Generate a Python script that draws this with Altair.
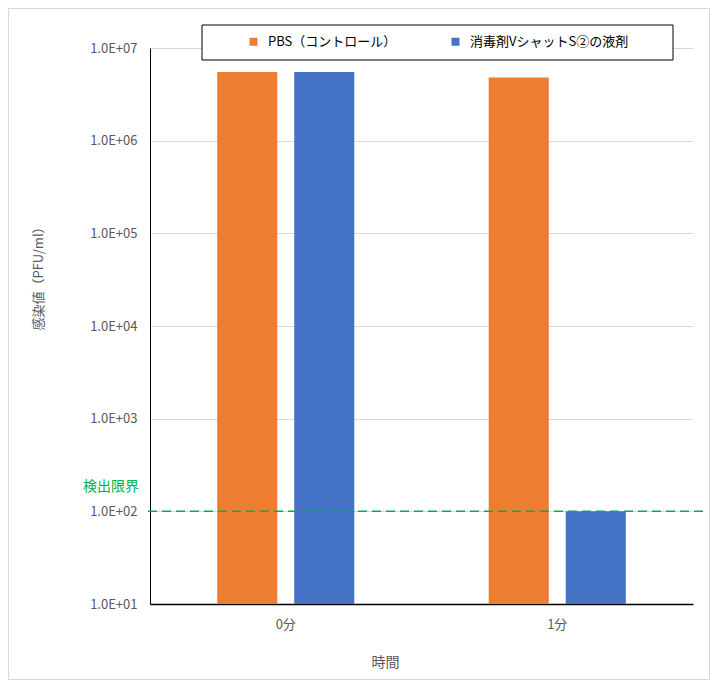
import altair as alt
import pandas as pd

times = ["0分", "1分"]
series = ["PBS（コントロール）", "消毒剤VシャットS②の液剤"]
pbs_values = [5.5e6, 4.8e6]
vshut_values = [5.5e6, 1.0e2]
y_ticks = [1e1, 1e2, 1e3, 1e4, 1e5, 1e6, 1e7]
limit_value = 1e2
limit_label = "検出限界"
colors = ["#ED7D31", "#4472C4"]
green = "#00B050"
gray = "#595959"
font = "Noto Sans CJK JP"

rows = []
for i, t in enumerate(times):
    rows.append({"time": t, "series": series[0], "value": pbs_values[i]})
    rows.append({"time": t, "series": series[1], "value": vshut_values[i]})
df = pd.DataFrame(rows)
one = pd.DataFrame({"a": [0]})

W, H = 543, 556

yscale = alt.Scale(type="log", domain=[1e1, 1e7], nice=False)

outer = alt.Chart(one).mark_rect(fill=None, stroke="#D9D9D9", strokeWidth=1).encode(
    x=alt.value(-141.5), x2=alt.value(559.5), y=alt.value(-39.5), y2=alt.value(631.5)
)

legend_box = alt.Chart(one).mark_rect(fill="white", stroke="black", strokeWidth=1).encode(
    x=alt.value(52), x2=alt.value(523), y=alt.value(-23), y2=alt.value(12)
)

bars = alt.Chart(df).mark_bar().encode(
    x=alt.X("time:N", sort=times,
            scale=alt.Scale(paddingInner=0.495, paddingOuter=0.2475),
            axis=alt.Axis(title="時間", labelAngle=0, ticks=False, labelPadding=14,
                          labelFontSize=13, labelColor=gray, labelFont=font,
                          domainColor="black", domainWidth=1.5,
                          titleFontSize=14, titleColor=gray, titleFont=font,
                          titleFontWeight="normal", titleX=235, titleY=58,
                          titleBaseline="middle", titleAlign="center")),
    xOffset=alt.XOffset("series:N", sort=series,
                        scale=alt.Scale(paddingInner=0.22, paddingOuter=0)),
    y=alt.Y("value:Q", scale=yscale,
            axis=alt.Axis(title="感染値（PFU/ml）", values=y_ticks, ticks=False,
                          labelPadding=13, labelFontSize=13, labelColor=gray, labelFont=font,
                          labelExpr="'1.0E+0' + format(log(datum.value)/LN10, '.0f')",
                          domainColor="black", domainWidth=1,
                          gridColor="#D9D9D9", gridWidth=1,
                          titleFontSize=13, titleColor=gray, titleFont=font,
                          titleFontWeight="normal", titleX=-112, titleY=227,
                          titleAngle=-90, titleAlign="center", titleBaseline="middle")),
    y2=alt.datum(1e1),
    color=alt.Color("series:N", sort=series,
                    scale=alt.Scale(domain=series, range=colors),
                    legend=alt.Legend(title=None, orient="none", legendX=97, legendY=-13,
                                      direction="horizontal", symbolType="square",
                                      symbolSize=64, symbolStrokeWidth=0,
                                      labelFontSize=13, labelColor="black", labelFont=font,
                                      labelOffset=8, columnPadding=52, padding=0,
                                      labelLimit=400)),
)

rule = alt.Chart(one).mark_rule(color=green, strokeDash=[9, 5], strokeWidth=1.5).encode(
    y=alt.Y("v:Q", scale=yscale),
    x=alt.value(-2), x2=alt.value(555)
).transform_calculate(v=str(limit_value))

label = alt.Chart(one).mark_text(color=green, fontSize=14, font=font, align="left",
                                 baseline="middle", dy=-24).encode(
    y=alt.Y("v:Q", scale=yscale), x=alt.value(-67), text=alt.value(limit_label)
).transform_calculate(v=str(limit_value))

chart = alt.layer(outer, legend_box, bars, rule, label).properties(
    width=W, height=H,
    autosize=alt.AutoSizeParams(type="none"),
    padding={"left": 142, "top": 40, "right": 18, "bottom": 84},
).configure_view(stroke=None)

chart.save("out.html", embed_options={"renderer": "svg", "actions": False})
